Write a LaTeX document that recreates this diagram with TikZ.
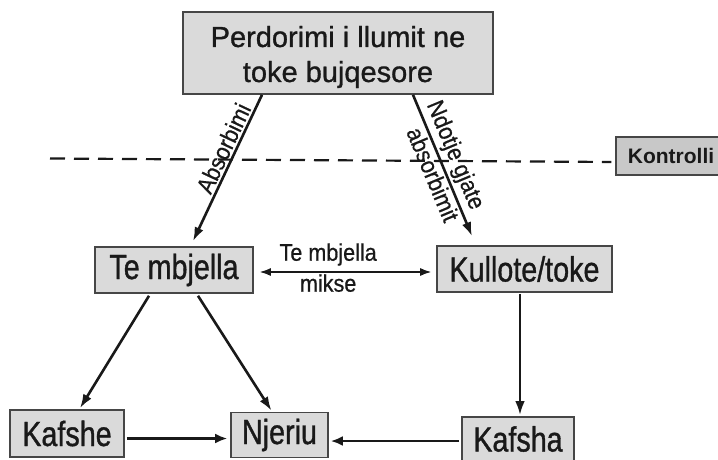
\documentclass[tikz,border=0pt]{standalone}
\usepackage{fontspec}
\setmainfont[FakeStretch=0.82,FakeBold=1]{Liberation Sans}
\newfontfamily\topfont[FakeBold=1]{Liberation Sans}
\newfontfamily\lblfont[FakeStretch=0.9,FakeBold=0.6]{Liberation Sans}
\newfontfamily\kfont{Liberation Sans}
\usetikzlibrary{arrows.meta,calc}
\definecolor{boxfill}{RGB}{218,218,218}
\definecolor{kfill}{RGB}{200,200,200}
\definecolor{boxline}{RGB}{70,70,70}
\definecolor{ink}{RGB}{25,25,25}
\begin{document}
\begin{tikzpicture}[x=1pt,y=-1pt,
  box/.style={draw=boxline, fill=boxfill, line width=1.6pt, inner sep=0pt,
    font=\fontsize{35}{38}\selectfont, text=ink},
  tip/.style={-{Latex[length=14pt,width=9.5pt]}},
  conn/.style={draw=ink, line width=2.6pt, tip},
  lbl/.style={font=\lblfont\fontsize{24}{26}\selectfont, text=ink, inner sep=2pt}]
\useasboundingbox (0,0) rectangle (718,460);
\clip (0,0) rectangle (718,460);
\fill[white] (0,0) rectangle (718,460);

\node[box, minimum width=310pt, minimum height=82pt, align=center,
  font=\topfont\fontsize{29}{35}\selectfont] (top) at (338,53)
  {\rule{0pt}{29pt}Perdorimi i llumit ne\\toke bujqesore};
\node[box, minimum width=158pt, minimum height=46pt] (tm) at (174,270) {Te mbjella};
\node[box, minimum width=175pt, minimum height=46pt] (kt) at (524.5,269) {Kullote/toke};
\node[box, minimum width=114pt, minimum height=47pt] (kafshe) at (67,433.5) {Kafshe};
\node[box, minimum width=97pt, minimum height=45pt] (njeriu) at (279.5,435) {Njeriu};
\node[box, minimum width=112pt, minimum height=44pt] (kafsha) at (518,439) {Kafsha};
\node[draw=boxline, fill=kfill, line width=1.4pt, minimum width=110pt, minimum height=38pt,
  inner sep=0pt, text=ink, font=\kfont\bfseries\fontsize{21}{24}\selectfont] (ctrl) at (671,156) {Kontrolli};

\coordinate (dl) at (50,158.5);
\draw[ink, line width=2.2pt, dash pattern=on 15pt off 9pt] (dl) -- ($(ctrl.west)+(-4,6)$);

\draw[conn] ($(top.south)+(-76,0)$) --
  node[lbl, sloped, above, pos=0.4] {Absorbimi}
  ($(tm.north)+(19,-5)$);
\draw[conn] ($(top.south)+(75,0)$) --
  node[lbl, sloped, above, pos=0.47, inner sep=2.5pt] {Ndotje gjate}
  node[lbl, sloped, below, pos=0.53, inner sep=2pt] {absorbimit}
  ($(kt.north)+(-52.5,-9)$);
\draw[conn, {Latex[length=12pt,width=8pt]}-{Latex[length=12pt,width=8pt]}]
  ($(tm.east)+(5,2)$) --
  node[lbl, pos=0.4, above, yshift=3pt] {Te mbjella}
  node[lbl, pos=0.4, below, inner sep=1pt] {mikse}
  ($(tm.east -| kt.west)+(-4,2)$);
\draw[conn] ($(tm.south)+(-25,2)$) -- ($(kafshe.north)+(13,-1)$);
\draw[conn] ($(tm.south)+(24,2)$) -- ($(njeriu.north)+(-8,-1)$);
\draw[conn] ($(kafsha.north |- kt.south)+(2,1)$) -- ($(kafsha.north)+(2,-1)$);
\draw[conn, -{Latex[length=12pt,width=10pt]}] ($(kafshe.east)+(2,5)$) -- ($(kafshe.east -| njeriu.west)+(-3,5)$);
\draw[conn, -{Latex[length=12pt,width=10pt]}] ($(kafsha.west)+(-2,2)$) -- ($(kafsha.west -| njeriu.east)+(2,2)$);
\end{tikzpicture}
\end{document}
